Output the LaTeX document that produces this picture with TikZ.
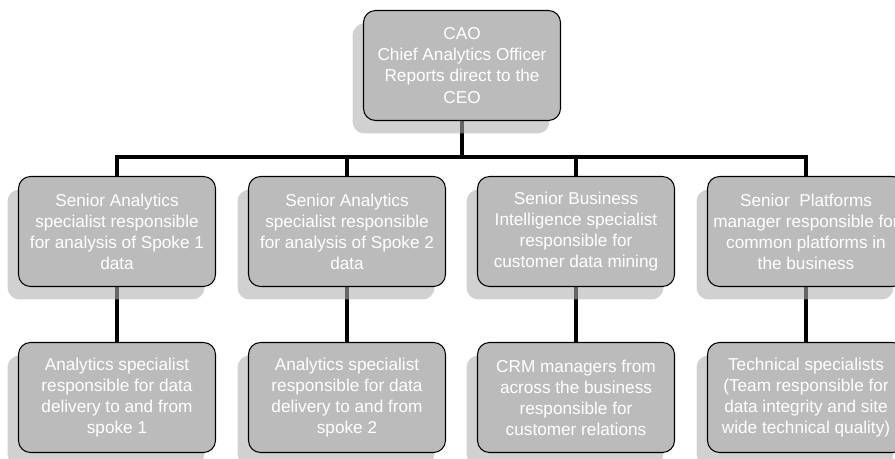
\documentclass[tikz,border=0pt]{standalone}
\usepackage{fontspec}
\setmainfont{Liberation Sans}
\usetikzlibrary{shadows,backgrounds}

\definecolor{boxgray}{HTML}{BBBBBB}
\definecolor{shadowgray}{HTML}{AFAFAF}

\tikzset{
	role/.style={shape=rectangle, rounded corners=9pt, draw=black, line width=0.8pt,
		fill=boxgray, text=white, align=center,
		minimum width=147.75pt, minimum height=82.5pt, inner sep=2pt,
		font=\fontsize{12.9pt}{15.8pt}\selectfont,
		drop shadow={shadow xshift=-8.25pt, shadow yshift=-9.75pt,
			fill=shadowgray, opacity=0.58}},
	link/.style={-, line width=2.7pt, line join=miter, draw=black}
}

\begin{document}
\begin{tikzpicture}[x=0.75pt, y=-0.75pt]

	\useasboundingbox (0,0) rectangle (895,459);
	\clip (0,0) rectangle (895,459);

	\node[role] (cao) at (462, 65.5)  {CAO\\Chief Analytics Officer\\Reports direct to the\\CEO};

	\node[role] (s1) at (117, 231.5)  {Senior Analytics\\specialist responsible\\for analysis of Spoke 1\\data};
	\node[role] (s2) at (347, 231.5)  {Senior Analytics\\specialist responsible\\for analysis of Spoke 2\\data};
	\node[role] (s3) at (576, 231.5)  {Senior Business\\Intelligence specialist\\responsible for\\customer data mining};
	\node[role] (s4) at (806, 231.5)  {Senior\ \ Platforms\\manager responsible for\\common platforms in\\the business};

	\node[role] (t1) at (117, 397.5)  {Analytics specialist\\responsible for data\\delivery to and from\\spoke 1};
	\node[role] (t2) at (347, 397.5)  {Analytics specialist\\responsible for data\\delivery to and from\\spoke 2};
	\node[role] (t3) at (576, 397.5)  {CRM managers from\\across the business\\responsible for\\customer relations};
	\node[role] (t4) at (806, 397.5)  {Technical specialists\\(Team responsible for\\data integrity and site\\wide technical quality)};

	\coordinate (bar) at (462, 157);

	\begin{scope}[on background layer]
		\draw[link] (cao) -- (bar) -| (s1);
		\draw[link] (bar) -| (s2);
		\draw[link] (bar) -| (s3);
		\draw[link] (bar) -| (s4);

		\path[link] (s1) edge (t1);
		\path[link] (s2) edge (t2);
		\path[link] (s3) edge (t3);
		\path[link] (s4) edge (t4);
	\end{scope}

\end{tikzpicture}
\end{document}
